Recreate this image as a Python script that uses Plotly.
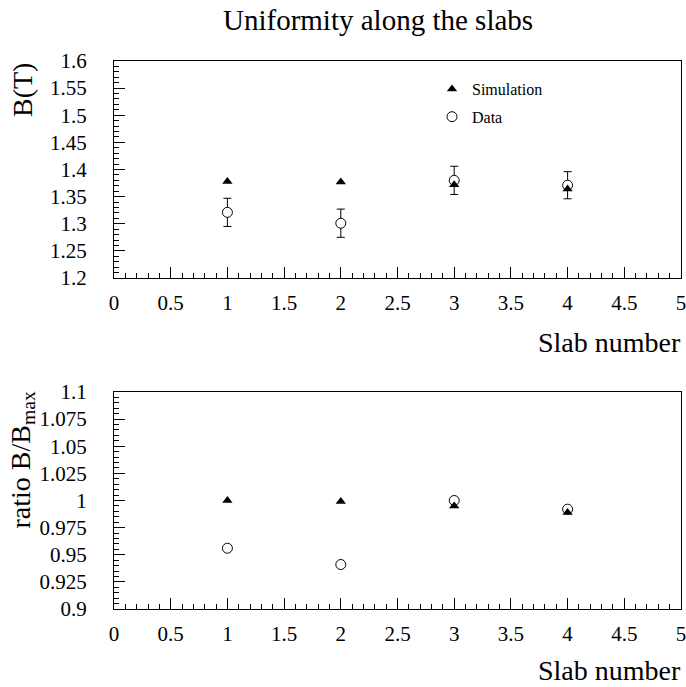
import plotly.graph_objects as go

# ---- data ----
slabs = [1, 2, 3, 4]
sim_B = [1.378, 1.377, 1.372, 1.364]
data_B = [1.321, 1.301, 1.380, 1.371]
data_B_err = [0.026, 0.026, 0.026, 0.025]
sim_ratio = [1.000, 0.999, 0.995, 0.989]
data_ratio = [0.956, 0.941, 1.000, 0.992]

x_ticks = [0, 0.5, 1, 1.5, 2, 2.5, 3, 3.5, 4, 4.5, 5]
x_ticklabels = ["0", "0.5", "1", "1.5", "2", "2.5", "3", "3.5", "4", "4.5", "5"]
top_y_ticks = [1.2, 1.25, 1.3, 1.35, 1.4, 1.45, 1.5, 1.55, 1.6]
top_y_ticklabels = ["1.2", "1.25", "1.3", "1.35", "1.4", "1.45", "1.5", "1.55", "1.6"]
bot_y_ticks = [0.9, 0.925, 0.95, 0.975, 1.0, 1.025, 1.05, 1.075, 1.1]
bot_y_ticklabels = ["0.9", "0.925", "0.95", "0.975", "1", "1.025", "1.05", "1.075", "1.1"]

FONT = "Liberation Serif"
W, H = 686, 687

fig = go.Figure()

# top panel
fig.add_trace(go.Scatter(
    x=slabs, y=data_B, mode="markers", name="Data", legendgroup="d",
    marker=dict(symbol="circle", size=10, color="white", line=dict(color="black", width=1)),
    error_y=dict(type="data", array=data_B_err, visible=True, color="black", thickness=1, width=4),
    xaxis="x", yaxis="y", legendrank=2,
))
fig.add_trace(go.Scatter(
    x=slabs, y=sim_B, mode="markers", name="Simulation", legendgroup="s",
    marker=dict(symbol="triangle-up", size=9, color="black"),
    xaxis="x", yaxis="y", legendrank=1,
))

# bottom panel
fig.add_trace(go.Scatter(
    x=slabs, y=data_ratio, mode="markers", showlegend=False,
    marker=dict(symbol="circle", size=10, color="white", line=dict(color="black", width=1)),
    xaxis="x2", yaxis="y2",
))
fig.add_trace(go.Scatter(
    x=slabs, y=sim_ratio, mode="markers", showlegend=False,
    marker=dict(symbol="triangle-up", size=9, color="black"),
    xaxis="x2", yaxis="y2",
))

xdom = [114 / W, 681 / W]
top_dom = [1 - 278 / H, 1 - 61 / H]
bot_dom = [1 - 609 / H, 1 - 392 / H]

common_axis = dict(
    showline=True, mirror=True, linecolor="black", linewidth=1,
    showgrid=False, zeroline=False, ticks="inside", ticklen=11,
    tickcolor="black", tickwidth=1, automargin=False, ticklabeloverflow="allow",
    tickfont=dict(family=FONT, size=21, color="black"),
)

fig.update_layout(
    width=W, height=H,
    margin=dict(l=0, r=0, t=0, b=0, autoexpand=False),
    paper_bgcolor="white", plot_bgcolor="white",
    font=dict(family=FONT, color="black"),
    xaxis=dict(domain=xdom, anchor="y", range=[0, 5], tickvals=x_ticks, ticktext=x_ticklabels,
               minor=dict(dtick=0.1, tick0=0, ticks="inside", ticklen=5, tickcolor="black"),
               ticklabelstandoff=6, **common_axis),
    yaxis=dict(domain=top_dom, anchor="x", range=[1.2, 1.6], tickvals=top_y_ticks, ticktext=top_y_ticklabels,
               minor=dict(dtick=0.01, tick0=1.2, ticks="inside", ticklen=5, tickcolor="black"),
               ticklabelstandoff=22, **common_axis),
    xaxis2=dict(domain=xdom, anchor="y2", range=[0, 5], tickvals=x_ticks, ticktext=x_ticklabels,
                minor=dict(dtick=0.1, tick0=0, ticks="inside", ticklen=5, tickcolor="black"),
                ticklabelstandoff=6, **common_axis),
    yaxis2=dict(domain=bot_dom, anchor="x2", range=[0.9, 1.1], tickvals=bot_y_ticks, ticktext=bot_y_ticklabels,
                minor=dict(dtick=0.005, tick0=0.9, ticks="inside", ticklen=5, tickcolor="black"),
                ticklabelstandoff=22, **common_axis),
    showlegend=True,
    legend=dict(x=432 / W, y=1 - 72 / H, xanchor="left", yanchor="top",
                bgcolor="rgba(0,0,0,0)", borderwidth=0,
                font=dict(family=FONT, size=16, color="black"),
                tracegroupgap=4, traceorder="grouped", itemwidth=30),
    annotations=[
        dict(text="Uniformity along the slabs", x=378 / W, y=1 - 20 / H, xref="paper", yref="paper",
             xanchor="center", yanchor="middle", showarrow=False,
             font=dict(family=FONT, size=29, color="black")),
        dict(text="Slab number", x=683 / W, y=1 - 325 / H, xref="paper", yref="paper",
             xanchor="right", yanchor="top", showarrow=False,
             font=dict(family=FONT, size=28, color="black")),
        dict(text="Slab number", x=683 / W, y=1 - 653 / H, xref="paper", yref="paper",
             xanchor="right", yanchor="top", showarrow=False,
             font=dict(family=FONT, size=28, color="black")),
        dict(text="B(T)", x=22 / W, y=1 - 61 / H, xref="paper", yref="paper",
             xanchor="center", yanchor="top", textangle=-90, showarrow=False,
             font=dict(family=FONT, size=28, color="black")),
        dict(text="ratio B/B<sub>max</sub>", x=22 / W, y=1 - 390 / H, xref="paper", yref="paper",
             xanchor="center", yanchor="top", textangle=-90, showarrow=False,
             font=dict(family=FONT, size=28, color="black")),
    ],
)

fig.write_html("out.html")
